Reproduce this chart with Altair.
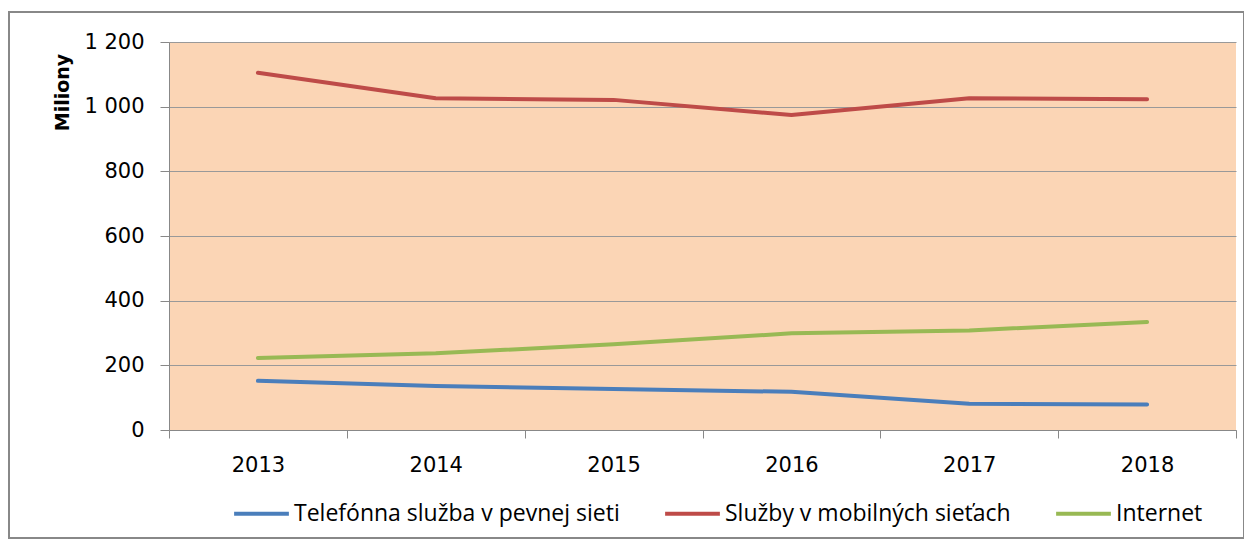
import altair as alt
import pandas as pd

years = ["2013", "2014", "2015", "2016", "2017", "2018"]
series_names = ["Telefónna služba v pevnej sieti", "Služby v mobilných sieťach", "Internet"]
fixed = [152, 136, 127, 118, 81, 79]
mobile = [1105, 1026, 1021, 974, 1026, 1023]
internet = [223, 237, 265, 299, 308, 334]
colors = ["#4A7EBB", "#BE4B48", "#98B954"]

rows = []
for name, vals in zip(series_names, [fixed, mobile, internet]):
    for y, v in zip(years, vals):
        rows.append({"Rok": y, "Séria": name, "Hodnota": v})
df = pd.DataFrame(rows)

PW, PH = 1067, 388
PAD = {"left": 161, "top": 34, "right": 8, "bottom": 110}

lines = alt.Chart(df).mark_line(strokeWidth=4, strokeCap="round", strokeJoin="round").encode(
    x=alt.X("Rok:N", sort=years, title=None,
            scale=alt.Scale(paddingInner=0, paddingOuter=0),
            axis=alt.Axis(tickBand="extent", labelAngle=0, labelFont="DejaVu Sans",
                          labelFontSize=21, labelColor="#000", labelPadding=16,
                          tickSize=8, tickColor="#888", domainColor="#888", grid=False)),
    y=alt.Y("Hodnota:Q", title="Miliony",
            scale=alt.Scale(domain=[0, 1200], nice=False),
            axis=alt.Axis(values=[0, 200, 400, 600, 800, 1000, 1200],
                          labelExpr="replace(format(datum.value, ','), ',', ' ')",
                          labelFont="DejaVu Sans", labelFontSize=21, labelColor="#000",
                          labelPadding=16, tickSize=9, tickColor="#888", domainColor="#888",
                          gridColor="#999", gridWidth=1,
                          titleFont="DejaVu Sans", titleFontSize=19, titleFontWeight="bold",
                          titleColor="#000", titleAngle=-90, titleX=-107, titleY=50,
                          titleAlign="center", titleBaseline="middle")),
    color=alt.Color("Séria:N", sort=series_names,
                    scale=alt.Scale(domain=series_names, range=colors),
                    legend=alt.Legend(title=None, orient="none", direction="horizontal",
                                      legendX=63, legendY=442,
                                      symbolType="stroke", symbolSize=3000,
                                      symbolStrokeWidth=4, labelFont="Open Sans",
                                      labelFontSize=23, labelColor="#000", labelLimit=500,
                                      labelOffset=3, columnPadding=37, symbolOffset=0)),
)

border = alt.Chart(pd.DataFrame({"a": [0]})).mark_rect(
    fill=None, stroke="#888", strokeWidth=2
).encode(
    x=alt.value(-160), x2=alt.value(1075),
    y=alt.value(-30), y2=alt.value(PH + PAD["bottom"] - 2),
)

chart = alt.layer(border, lines).properties(
    width=PW, height=PH,
    autosize=alt.AutoSizeParams(type="none"),
    padding=PAD,
    background="white",
).configure_view(
    fill="#FBD5B5", stroke=None
)

chart.save("out.html", embed_options={"renderer": "svg", "actions": False})
